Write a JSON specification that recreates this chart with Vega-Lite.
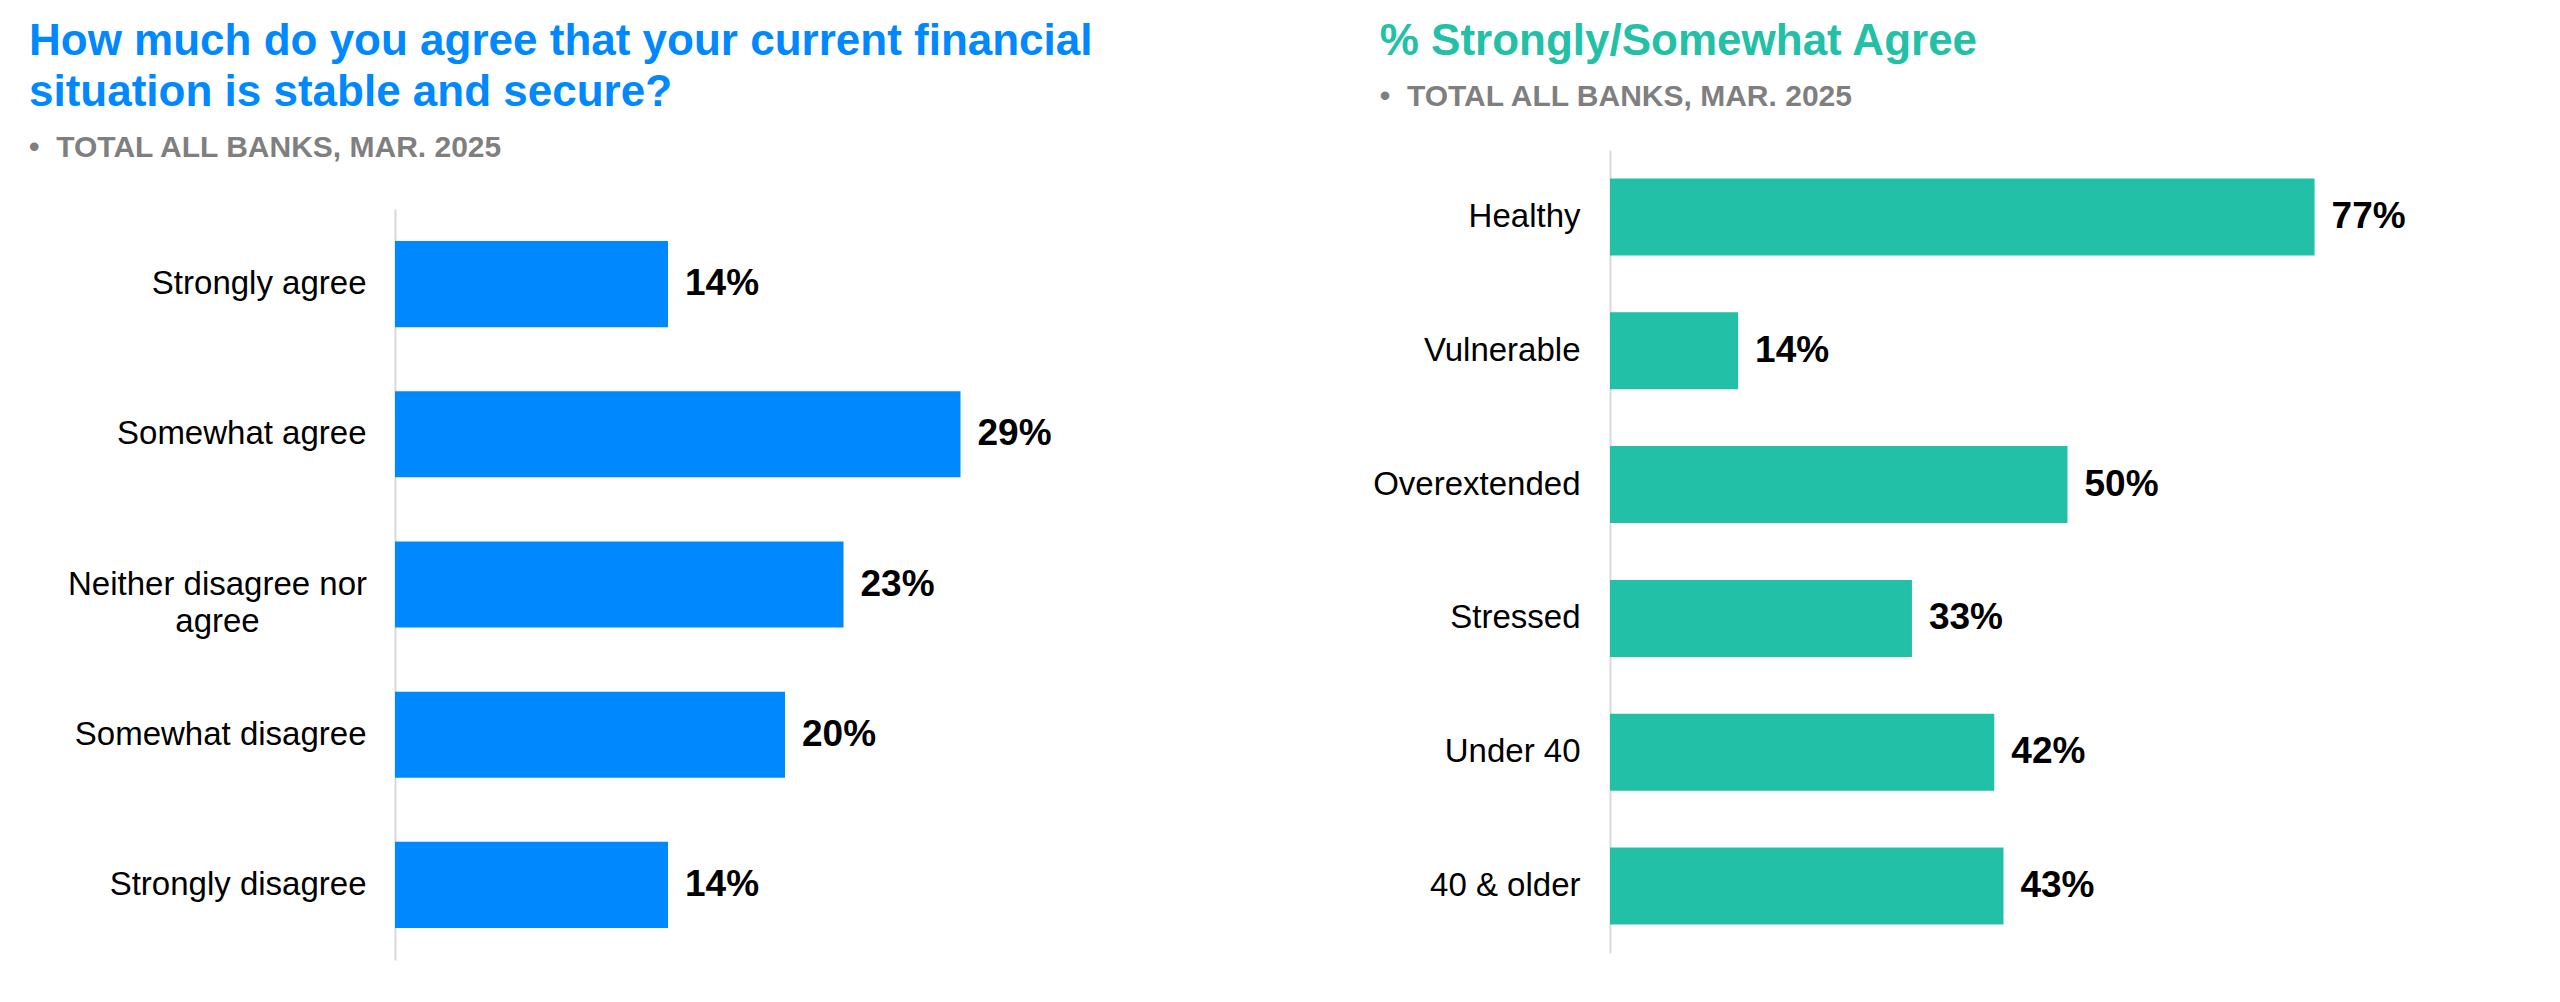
{
  "$schema": "https://vega.github.io/schema/vega-lite/v6.json",
  "background": "white",
  "padding": {"left": 29, "top": 20, "right": 10, "bottom": 10},
  "spacing": 197,
  "config": {
    "view": {"stroke": null},
    "font": "Liberation Sans",
    "title": {"font": "Liberation Sans", "fontWeight": "bold", "fontSize": 44, "lineHeight": 51, "anchor": "start", "frame": "bounds", "subtitleFont": "Liberation Sans", "subtitleFontWeight": "bold", "subtitleFontSize": 30, "subtitleColor": "#7F7F7F", "subtitlePadding": 18}
  },
  "hconcat": [
    {
      "title": {"text": ["How much do you agree that your current financial", "situation is stable and secure?"], "subtitle": "•\u00a0\u00a0TOTAL ALL BANKS, MAR. 2025", "color": "#0088FF", "offset": -13},
      "width": 780,
      "height": 810,
      "data": {"values": [
        {"response": "Strongly agree", "share": 0.14},
        {"response": "Somewhat agree", "share": 0.29},
        {"response": "Neither disagree nor agree", "share": 0.23},
        {"response": "Somewhat disagree", "share": 0.20},
        {"response": "Strongly disagree", "share": 0.14}
      ]},
      "encoding": {
        "y": {"field": "response", "type": "nominal", "sort": null, "scale": {"range": [59, 810], "paddingInner": 0.427, "paddingOuter": 0.2135},
          "axis": {"title": null, "ticks": false, "domainColor": "#D9D9D9", "domainWidth": 2, "labelFontSize": 33, "labelColor": "black", "labelLimit": 500, "labelLineHeight": 37,
            "labelExpr": "datum.label == 'Neither disagree nor agree' ? ['Neither disagree nor', 'agree'] : datum.label",
            "labelAlign": {"condition": {"test": "datum.value == 'Neither disagree nor agree'", "value": "center"}, "value": "right"},
            "labelPadding": {"condition": {"test": "datum.value == 'Neither disagree nor agree'", "value": 178}, "value": 29},
            "minExtent": 366, "maxExtent": 366}},
        "x": {"field": "share", "type": "quantitative", "scale": {"domain": [0, 0.4], "nice": false}, "axis": null}
      },
      "layer": [
        {"mark": {"type": "bar", "color": "#0088FF"}},
        {"mark": {"type": "text", "align": "left", "baseline": "middle", "dx": 17, "fontSize": 37, "fontWeight": "bold", "color": "black"},
          "encoding": {"text": {"field": "share", "type": "quantitative", "format": ".0%"}}}
      ]
    },
    {
      "title": {"text": "% Strongly/Somewhat Agree", "subtitle": "•\u00a0\u00a0TOTAL ALL BANKS, MAR. 2025", "color": "#22C0A6", "offset": 38, "dx": 7},
      "width": 915,
      "height": 803,
      "data": {"values": [
        {"segment": "Healthy", "share": 0.77},
        {"segment": "Vulnerable", "share": 0.14},
        {"segment": "Overextended", "share": 0.50},
        {"segment": "Stressed", "share": 0.33},
        {"segment": "Under 40", "share": 0.42},
        {"segment": "40 & older", "share": 0.43}
      ]},
      "encoding": {
        "y": {"field": "segment", "type": "nominal", "sort": null, "scale": {"paddingInner": 0.425, "paddingOuter": 0.2125},
          "axis": {"title": null, "ticks": false, "domainColor": "#D9D9D9", "domainWidth": 2, "labelFontSize": 33, "labelColor": "black", "labelLimit": 500, "labelPadding": 30, "labelAlign": "right", "minExtent": 230, "maxExtent": 230}},
        "x": {"field": "share", "type": "quantitative", "scale": {"domain": [0, 1], "nice": false}, "axis": null}
      },
      "layer": [
        {"mark": {"type": "bar", "color": "#22C0A6"}},
        {"mark": {"type": "text", "align": "left", "baseline": "middle", "dx": 17, "fontSize": 37, "fontWeight": "bold", "color": "black"},
          "encoding": {"text": {"field": "share", "type": "quantitative", "format": ".0%"}}}
      ]
    }
  ]
}
